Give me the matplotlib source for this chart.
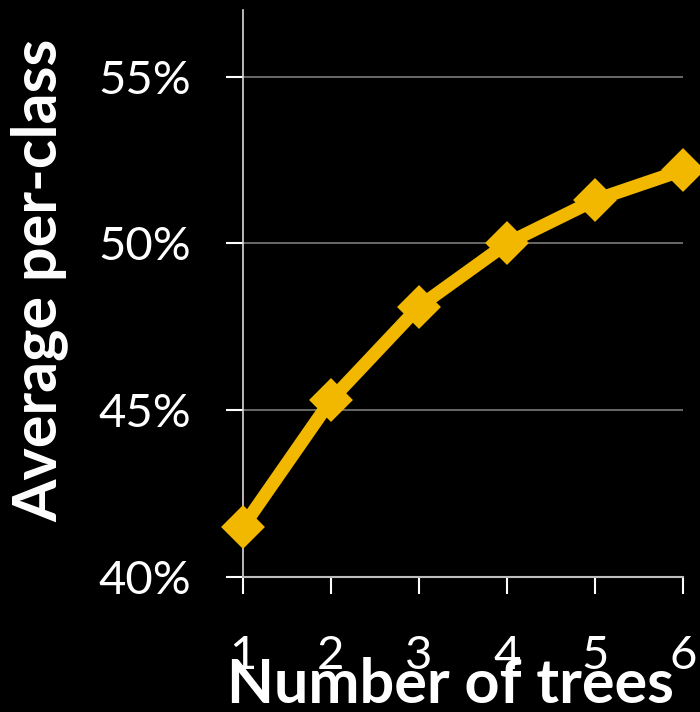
import matplotlib
matplotlib.use("Agg")
import matplotlib.pyplot as plt

# number of trees vs average per-class accuracy (%)
trees = [1, 2, 3, 4, 5, 6]
accuracy = [41.5, 45.3, 48.1, 50.0, 51.3, 52.2]
yticks = [40, 45, 50, 55]

plt.rcParams["font.family"] = ["Lato", "DejaVu Sans"]

fig = plt.figure(figsize=(7.0, 7.12), dpi=100, facecolor="black")
ax = fig.add_axes([0.347, 0.19, 0.629, 0.796], facecolor="black")

ax.plot(trees, accuracy, color="#F2B800", lw=9.5, marker="D", ms=18,
        mec="#F2B800", mew=4, solid_joinstyle="round", clip_on=False, zorder=3)

ax.set_xlim(1, 6)
ax.set_ylim(40, 57)
ax.set_xticks(trees)
ax.set_yticks(yticks)
ax.set_yticklabels([f"{v}%" for v in yticks])
ax.grid(axis="y", color="#7a7a7a", lw=1.2)

for side in ["top", "right"]:
    ax.spines[side].set_visible(False)
ax.spines["left"].set_color("#d8d8d8")
ax.spines["bottom"].set_color("#bdbdbd")
ax.spines["left"].set_linewidth(1.2)
ax.spines["bottom"].set_linewidth(1.5)

ax.tick_params(axis="y", colors="white", labelsize=34, length=12, width=1.5,
               pad=25)
ax.tick_params(axis="x", colors="white", labelsize=34, length=12, width=1.5,
               pad=30)
for t in ax.get_xticklines() + ax.get_yticklines():
    t.set_color("#c8c8c8")

fig.text(0.057, 0.607, "Average per-class", rotation=90, color="white",
         fontsize=44, fontweight="bold", ha="center", va="center")
fig.text(0.643, 0.012, "Number of trees", color="white",
         fontsize=44, fontweight="bold", ha="center", va="baseline")

fig.savefig("out.png", dpi=100, facecolor="black")
